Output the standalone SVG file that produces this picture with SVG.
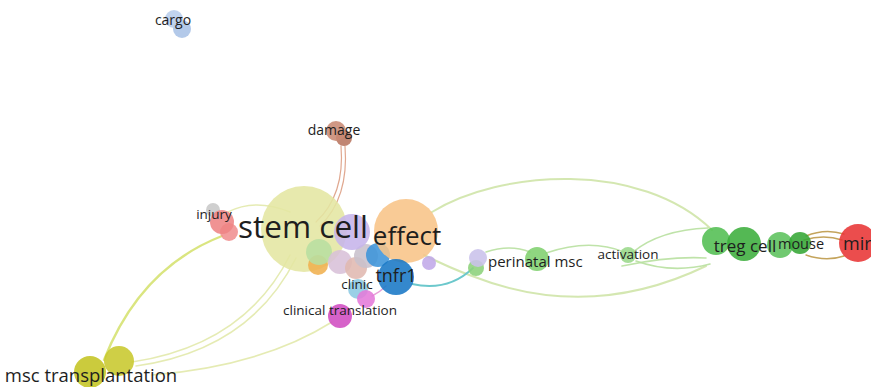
<svg xmlns="http://www.w3.org/2000/svg" width="871" height="387" viewBox="0 0 871 387">
  <style>
    .lbl { font-family: "Open Sans", "Noto Sans", "DejaVu Sans", sans-serif; fill: #1e1e1e; }
    .n { opacity: 0.88; }
    .e { fill: none; stroke-linecap: round; }
    .ey { stroke: #d4e06a; stroke-width: 2.4; opacity: 0.85; }
    .ey2 { stroke: #dfe6a0; stroke-width: 1.6; opacity: 0.8; }
    .eg { stroke: #cfe4a8; stroke-width: 2; opacity: 0.9; }
    .eg2 { stroke: #b8e0a0; stroke-width: 1.6; opacity: 0.9; }
    .ec { stroke: #6cc8cc; stroke-width: 1.8; }
    .eb { stroke: #e0a890; stroke-width: 1.2; }
    .eo { stroke: #c4a45c; stroke-width: 1.4; }
  </style>
  <rect width="871" height="387" fill="#ffffff"/>

  <!-- links -->
  <g id="links">
    <path class="e ey" d="M 222 236 Q 140 268 104 360"/>
    <path class="e ey2" d="M 290 255 Q 245 345 132 362"/>
    <path class="e ey2" d="M 296 258 Q 250 350 136 366"/>
    <path class="e ey2" d="M 332 322 Q 262 366 152 375"/>
    <path class="e ey2" d="M 228 212 Q 255 198 290 212"/>
    <path class="e eb" d="M 341 146 Q 345 195 316 222"/>
    <path class="e eb" d="M 345 146 Q 349 198 320 226"/>
    <path class="e eg" d="M 432 212 C 500 170 640 160 712 230"/>
    <path class="e eg" d="M 424 255 Q 450 268 472 276 Q 590 322 706 266"/>
    <path class="e ec" d="M 412 284 Q 448 292 473 268"/>
    <path class="e eg2" d="M 486 252 Q 510 244 530 252"/>
    <path class="e eg2" d="M 546 253 Q 590 238 624 252"/>
    <path class="e eg2" d="M 633 252 Q 660 230 708 228"/>
    <path class="e eg2" d="M 636 261 Q 672 274 710 264"/>
    <path class="e eg2" d="M 622 266 Q 670 256 706 258"/>
    <path class="e eo" d="M 806 236 Q 825 228 844 234"/>
    <path class="e eo" d="M 806 255 Q 826 262 844 256"/>
    <path class="e eo" d="M 804 240 Q 824 234 842 240"/>
    <path class="e" stroke="#e8a0d8" stroke-width="1.4" d="M 372 296 Q 380 292 386 286"/>
  </g>

  <!-- nodes -->
  <g id="node-cargo">
    <circle class="n" cx="182" cy="29" r="9" fill="#a9c2e6"/>
    <circle class="n" cx="174" cy="19" r="9" fill="#b8cdea"/>
    <text class="lbl" x="173" y="25" font-size="14" text-anchor="middle">cargo</text>
  </g>
  <g id="node-damage">
    <circle class="n" cx="344" cy="138" r="8" fill="#b87560"/>
    <circle class="n" cx="336" cy="131" r="10" fill="#c98a74"/>
    <text class="lbl" x="334" y="135" font-size="14" text-anchor="middle">damage</text>
  </g>
  <g id="node-stem-cell">
    <circle class="n" cx="304" cy="229" r="43" fill="#e4e6a2"/>
    <circle class="n" cx="318" cy="265" r="10" fill="#f0b050"/>
    <circle class="n" cx="319" cy="252" r="13" fill="#b8dea0"/>
    <circle class="n" cx="340" cy="262" r="12" fill="#d8c0d8"/>
    <circle class="n" cx="356" cy="268" r="11" fill="#e0b8b0"/>
    <circle class="n" cx="366" cy="256" r="12" fill="#c8c0cc"/>
    <circle class="n" cx="352" cy="232" r="18" fill="#c6b4ea"/>
  </g>
  <g id="node-injury">
    <circle class="n" cx="213" cy="210" r="7" fill="#c8c8c8"/>
    <circle class="n" cx="229" cy="232" r="9" fill="#f09090"/>
    <circle class="n" cx="222" cy="222" r="12" fill="#ee8484"/>
    <text class="lbl" x="214" y="219" font-size="13.5" text-anchor="middle">injury</text>
  </g>
  <g id="node-effect">
    <circle class="n" cx="429" cy="263" r="7" fill="#c0a8e8"/>
    <circle class="n" cx="378" cy="255" r="12" fill="#3c94da"/>
    <circle class="n" cx="406" cy="231" r="32" fill="#f8c488"/>
    <text class="lbl" x="407" y="245" font-size="26" text-anchor="middle">effect</text>
  </g>
  <g id="node-tnfr1">
    <circle class="n" cx="396" cy="277" r="18" fill="#1878c6"/>
    <text class="lbl" x="396" y="282" font-size="18" text-anchor="middle">tnfr1</text>
  </g>
  <g id="node-clinic">
    <circle class="n" cx="358" cy="289" r="10" fill="#8ccae2"/>
    <text class="lbl" x="357" y="289" font-size="13.5" text-anchor="middle">clinic</text>
  </g>
  <g id="node-clinical-translation">
    <circle class="n" cx="366" cy="299" r="9" fill="#e47ada"/>
    <circle class="n" cx="340" cy="316" r="12" fill="#d04cc2"/>
    <text class="lbl" x="340" y="315" font-size="13.5" text-anchor="middle">clinical translation</text>
  </g>
  <g id="node-stem-cell-label">
    <text class="lbl" x="303" y="238" font-size="31.5" text-anchor="middle">stem cell</text>
  </g>
  <g id="node-perinatal-msc">
    <circle class="n" cx="476" cy="268" r="8" fill="#8cd27a"/>
    <circle class="n" cx="478" cy="258" r="9" fill="#cac2ea"/>
    <circle class="n" cx="537" cy="259" r="12" fill="#80d06e"/>
    <text class="lbl" x="488" y="267" font-size="15">perinatal msc</text>
  </g>
  <g id="node-activation">
    <circle class="n" cx="628" cy="255" r="8" fill="#9ad88a"/>
    <text class="lbl" x="628" y="259" font-size="13.5" text-anchor="middle">activation</text>
  </g>
  <g id="node-mir">
    <circle class="n" cx="858" cy="243" r="19" fill="#e83434"/>
    <text class="lbl" x="843" y="250" font-size="18">mir</text>
  </g>
  <g id="node-mouse">
    <circle class="n" cx="780" cy="245" r="13" fill="#5cc25c"/>
    <circle class="n" cx="800" cy="243" r="11" fill="#34a634"/>
    <text class="lbl" x="801" y="249" font-size="14.5" text-anchor="middle">mouse</text>
  </g>
  <g id="node-treg-cell">
    <circle class="n" cx="716" cy="241" r="14" fill="#52be52"/>
    <circle class="n" cx="744" cy="244" r="17" fill="#3cae3c"/>
    <text class="lbl" x="745" y="252" font-size="17" text-anchor="middle">treg cell</text>
  </g>
  <g id="node-msc-transplantation">
    <circle class="n" cx="90" cy="372" r="16" fill="#c4c422"/>
    <circle class="n" cx="119" cy="361" r="15" fill="#c8c82c"/>
    <text class="lbl" x="91" y="382" font-size="18.5" text-anchor="middle">msc transplantation</text>
  </g>
</svg>
